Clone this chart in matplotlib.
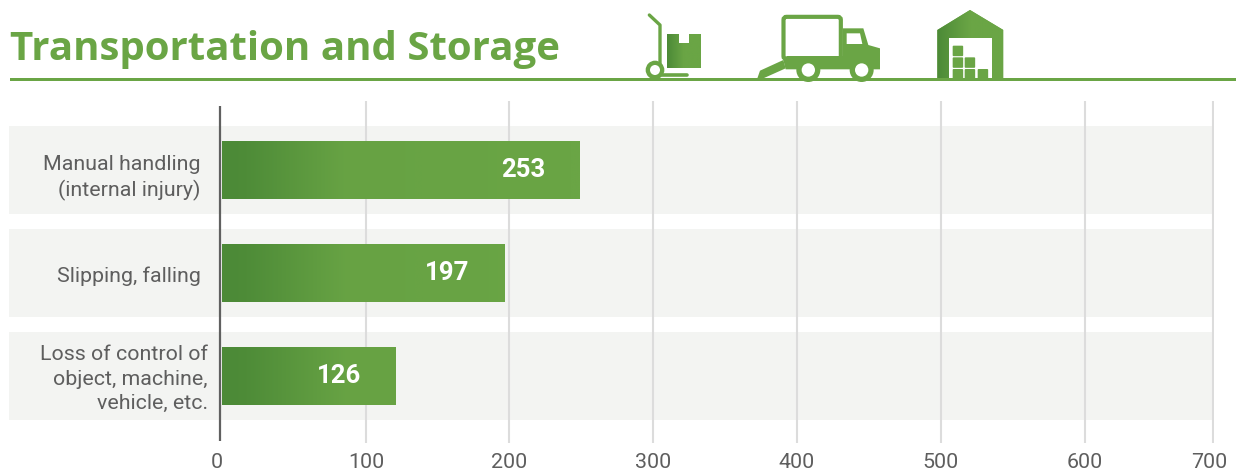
import matplotlib
matplotlib.use('Agg')
import matplotlib.pyplot as plt
import numpy as np
from matplotlib.colors import LinearSegmentedColormap
from matplotlib.patches import Circle, FancyBboxPatch, Polygon, Rectangle

categories = ['Manual handling\n(internal injury)', 'Slipping, falling', 'Loss of control of\nobject, machine,\nvehicle, etc.']
value_labels = ['253', '197', '126']
# bar lengths as drawn in the picture, they do not quite follow the printed numbers
bar_lengths = [249, 196.5, 121]
grid_positions = [101, 200, 300, 400, 500, 600, 689]
tick_positions = [-3, 101, 200, 300, 400, 500, 600, 686]
tick_labels = ['0', '100', '200', '300', '400', '500', '600', '700']

GREEN = '#6aa545'
DARK_GREEN = '#4c8a37'
TEXT = '#5e5e5e'
plt.rcParams['font.family'] = ['Roboto', 'DejaVu Sans']

W, H = 1236, 473
fig = plt.figure(figsize=(W / 100, H / 100), dpi=100)
green_map = LinearSegmentedColormap.from_list('bar', [DARK_GREEN, GREEN], N=256)

# ------------- Chart ------------- #
ax = fig.add_axes([9 / W, 1 - 443 / H, 1205 / W, 342 / H])
for s in ax.spines.values():
    s.set_visible(False)

y_pos = np.arange(len(categories))
for y in y_pos:
    ax.add_patch(Rectangle((-147.2, y - 0.427), 836.8, 0.854, color='#f3f4f2', lw=0, zorder=1))
ax.vlines(grid_positions, 2.65, -0.67, color='#dcdcdc', lw=1.5, zorder=2)
ax.vlines(-0.5, 2.63, -0.62, color='#606060', lw=1.6, zorder=5)

ramp = np.interp(np.linspace(0, 249, 500), [0, 15, 85, 249], [0, 0.05, 0.9, 1.0])
label_dx = [-20, -20, -13]
label_dy = [-5, 0, 0]
for y, length, lab, cat, dx, dy in zip(y_pos, bar_lengths, value_labels, categories, label_dx, label_dy):
    n = int(len(ramp) * length / 249)
    ax.imshow(ramp[:n][np.newaxis, :], cmap=green_map, vmin=0, vmax=1, aspect='auto',
              extent=(0.5, length, y + 0.28, y - 0.28), zorder=3)
    ax.annotate(lab, (length, y), xytext=(-34, 0), textcoords='offset pixels', ha='right', va='center',
                color='white', fontsize=18.5, fontweight='bold', zorder=6)
    ax.annotate(cat, (0, y + 0.03), xytext=(dx, dy), textcoords='offset pixels', ha='right', va='center',
                multialignment='right', color=TEXT, fontsize=15.4, linespacing=1.36, zorder=6)
ax.set_xlim(-147.2, 689.6)
ax.set_ylim(2.65, -0.67)
ax.set_yticks([])
ax.set_xticks(tick_positions)
ax.set_xticklabels(tick_labels, color=TEXT, fontsize=15.4)
ax.tick_params(axis='x', length=0, pad=7)

# ------------- Header and icons, pixel coords ------------- #
top = fig.add_axes([0, 0, 1, 1], facecolor='none')
top.axis('off')

top.text(10, 60, 'Transportation and Storage', color=GREEN, fontsize=29, fontweight='bold',
         family=['Open Sans', 'DejaVu Sans'], va='baseline', ha='left')
top.add_patch(Rectangle((10, 78), W - 10, 3, color=GREEN, lw=0))


def z(x, y):
    return 620 + x / 3, y / 3


def poly(points, color=GREEN, zorder=3):
    p = Polygon([z(*q) for q in points], closed=True, color=color, lw=0, zorder=zorder)
    top.add_patch(p)
    return p


def ring(x, y, r_out, r_in):
    cx, cy = z(x, y)
    top.add_patch(Circle((cx, cy), r_out / 3, color=GREEN, lw=0, zorder=4))
    top.add_patch(Circle((cx, cy), r_in / 3, color='white', lw=0, zorder=5))


def shade(patch, x0, x1, y0, y1, zorder=3):
    # lay a left to right gradient over a patch and clip it to the shape
    a = z(x0, y0)
    b = z(x1, y1)
    im = top.imshow(np.interp(np.linspace(0, 1, 100), [0, 0.5], [0, 1])[np.newaxis, :], cmap=green_map,
                    vmin=0, vmax=1, aspect='auto', extent=(a[0], b[0], b[1], a[1]), zorder=zorder)
    im.set_clip_path(patch)


# hand truck
top.plot(*zip(z(88, 45), z(120, 75), z(120, 190)), color=GREEN, lw=2.4, solid_capstyle='round', zorder=3)
top.plot(*zip(z(125, 226), z(200, 226)), color=GREEN, lw=2.6, solid_capstyle='round', zorder=3)
ring(105, 210, 28, 15)
box = poly([(142, 103), (177, 103), (177, 128), (207, 128), (207, 103), (242, 103), (242, 205), (142, 205)])
shade(box, 142, 242, 103, 205, zorder=4)

# truck
top.add_patch(FancyBboxPatch(z(495, 55), 163 / 3, 118 / 3, boxstyle='round,pad=1.5,rounding_size=3',
                             fc='white', ec=GREEN, lw=3, zorder=3))
poly([(668, 85), (730, 85), (745, 135), (780, 145), (780, 208), (497, 208), (490, 180), (500, 168), (668, 168)])
poly([(680, 100), (720, 100), (727, 132), (680, 132)], color='white', zorder=4)
poly([(412, 235), (420, 212), (490, 180), (497, 205), (430, 235)])
ring(565, 210, 36, 20)
ring(725, 210, 36, 20)

# warehouse
shed = poly([(952, 90), (1050, 30), (1150, 90), (1150, 235), (952, 235)])
shade(shed, 952, 1150, 30, 235)
poly([(987, 115), (1115, 115), (1115, 235), (987, 235)], color='white', zorder=4)
crate_x = [998, 998, 1034, 998, 1034, 1073]
crate_y = [137, 172, 172, 207, 207, 207]
for x, y in zip(crate_x, crate_y):
    cx, cy = z(x, y)
    top.add_patch(FancyBboxPatch((cx + 1, cy + 1), 8.5, min(8.5, 77 - cy), boxstyle='round,pad=1,rounding_size=1',
                                 color=GREEN, lw=0, zorder=5))
top.set_xlim(0, W)
top.set_ylim(H, 0)

fig.savefig('out.png', dpi=100)
